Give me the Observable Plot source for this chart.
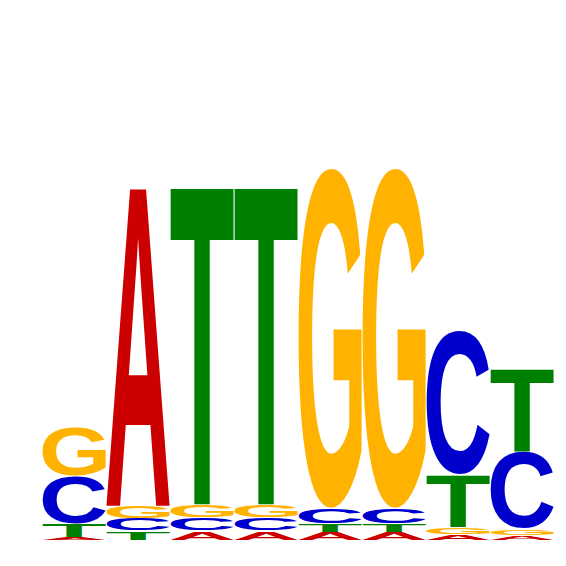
<!DOCTYPE html>
<html>
<head>
<meta charset="utf-8">
<script src="https://cdn.jsdelivr.net/npm/d3@7"></script>
<script src="https://cdn.jsdelivr.net/npm/@observablehq/plot@0.6"></script>
<style>
  body { margin: 0; background: #fff; }
</style>
</head>
<body>
<div id="chart"></div>
<script>
// sequence logo, information content (bits) per base and position
var positions = [1, 2, 3, 4, 5, 6, 7, 8];
var bases = ['A', 'C', 'G', 'T'];
var baseColors = ['#cc0000', '#0000cc', '#ffb300', '#008000'];
var bitsA = [0.012, 1.268, 0.036, 0.036, 0.032, 0.032, 0.022, 0.018];
var bitsC = [0.192, 0.049, 0.052, 0.052, 0.062, 0.062, 0.574, 0.308];
var bitsG = [0.200, 0.050, 0.053, 0.053, 1.358, 1.358, 0.030, 0.026];
var bitsT = [0.052, 0.036, 1.264, 1.264, 0.033, 0.033, 0.210, 0.328];

var series = { A: bitsA, C: bitsC, G: bitsG, T: bitsT };
var data = [];
positions.forEach(function (p, i) {
  bases.forEach(function (b) {
    data.push({ pos: p, base: b, bits: series[b][i] });
  });
});

// tight ink box of each glyph (scanned off a canvas), so a letter can be
// stretched over its bar
var FONT = 'Liberation Sans';
var canvas = document.createElement('canvas');
canvas.width = 600; canvas.height = 600;
var cv = canvas.getContext('2d');
cv.font = 'bold 400px "' + FONT + '"';
cv.textBaseline = 'alphabetic';
cv.textAlign = 'left';
var ink = {};
bases.forEach(function (b) {
  cv.clearRect(0, 0, 600, 600);
  cv.fillStyle = '#000';
  cv.fillText(b, 100, 450);
  var px = cv.getImageData(0, 0, 600, 600).data;
  var minX = 600, maxX = -1, minY = 600, maxY = -1;
  for (var yy = 0; yy < 600; yy++) {
    for (var xx = 0; xx < 600; xx++) {
      if (px[(yy * 600 + xx) * 4 + 3] > 127) {
        if (xx < minX) minX = xx;
        if (xx > maxX) maxX = xx;
        if (yy < minY) minY = yy;
        if (yy > maxY) maxY = yy;
      }
    }
  }
  ink[b] = {
    x0: (minX - 100) / 4, x1: (maxX + 1 - 100) / 4,
    y0: (minY - 450) / 4, y1: (maxY + 1 - 450) / 4
  };
});

function letters(index, scales, values, dims, context, next) {
  var g = next(index, scales, values, dims, context);
  var rects = g.querySelectorAll('rect');
  rects.forEach(function (r, k) {
    var b = data[index[k]].base;
    var box = ink[b];
    var x = +r.getAttribute('x'), y = +r.getAttribute('y');
    var w = +r.getAttribute('width'), h = +r.getAttribute('height');
    var t = document.createElementNS('http://www.w3.org/2000/svg', 'text');
    t.textContent = b;
    t.setAttribute('font-family', FONT);
    t.setAttribute('font-weight', 'bold');
    t.setAttribute('font-size', 100);
    t.setAttribute('text-anchor', 'start');
    t.setAttribute('fill', r.getAttribute('fill'));
    t.setAttribute('transform',
      'translate(' + x + ',' + y + ') scale(' + (w / (box.x1 - box.x0)) + ',' +
      (h / (box.y1 - box.y0)) + ') translate(' + (-box.x0) + ',' + (-box.y0) + ')');
    r.replaceWith(t);
  });
  return g;
}

var chart = Plot.plot({
  width: 566,
  height: 566,
  marginLeft: 41,
  marginRight: 11,
  marginTop: 40,
  marginBottom: 26,
  x: { type: 'band', domain: positions, padding: 0, axis: null },
  y: { domain: [0, 2], axis: null },
  color: { domain: bases, range: baseColors },
  marks: [
    Plot.barY(data, {
      x: 'pos', y: 'bits', fill: 'base', order: 'value',
      inset: 0.5, render: letters
    })
  ]
});
document.getElementById('chart').appendChild(chart);
</script>
</body>
</html>
